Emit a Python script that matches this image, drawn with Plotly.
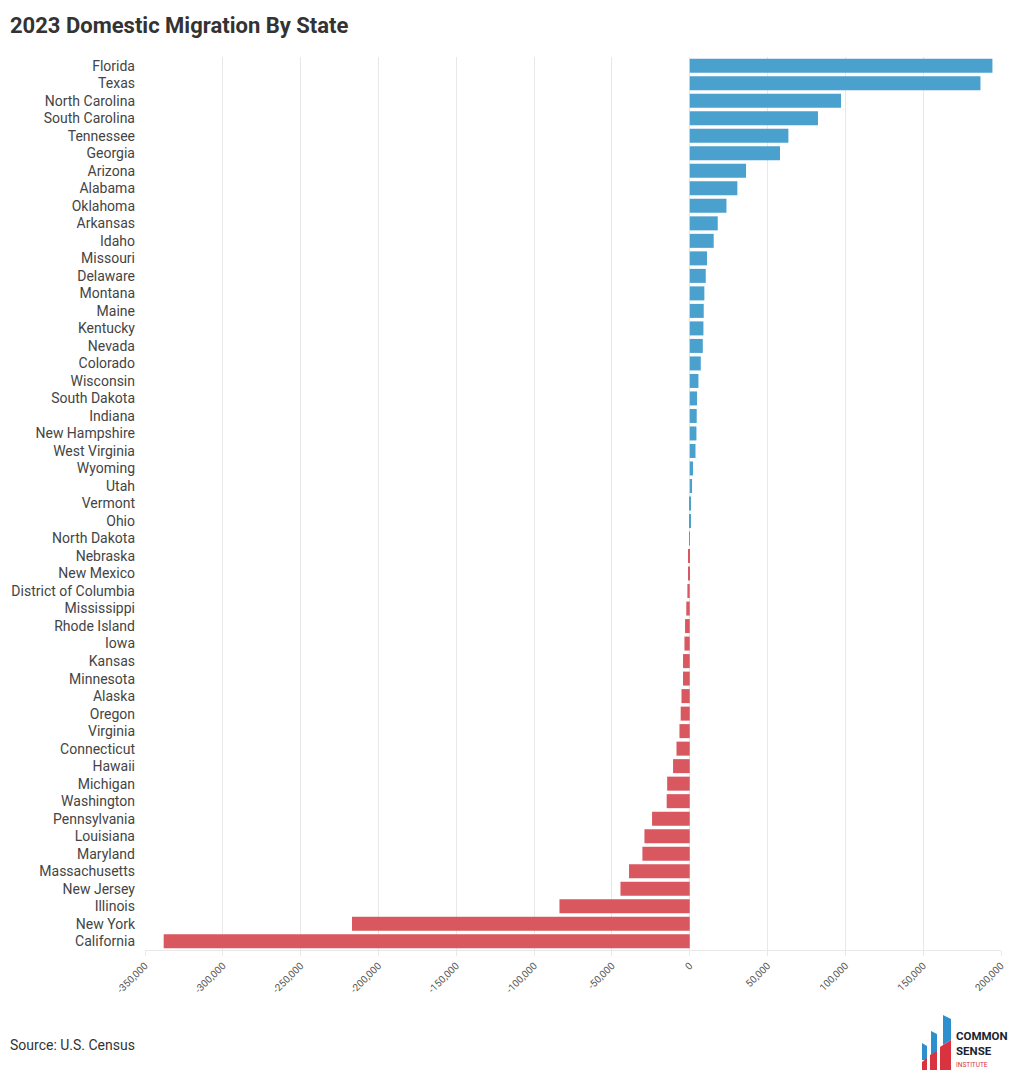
import plotly.graph_objects as go

states = ["Florida", "Texas", "North Carolina", "South Carolina", "Tennessee", "Georgia",
          "Arizona", "Alabama", "Oklahoma", "Arkansas", "Idaho", "Missouri", "Delaware",
          "Montana", "Maine", "Kentucky", "Nevada", "Colorado", "Wisconsin", "South Dakota",
          "Indiana", "New Hampshire", "West Virginia", "Wyoming", "Utah", "Vermont", "Ohio",
          "North Dakota", "Nebraska", "New Mexico", "District of Columbia", "Mississippi",
          "Rhode Island", "Iowa", "Kansas", "Minnesota", "Alaska", "Oregon", "Virginia",
          "Connecticut", "Hawaii", "Michigan", "Washington", "Pennsylvania", "Louisiana",
          "Maryland", "Massachusetts", "New Jersey", "Illinois", "New York", "California"]

migration = [194500, 186800, 97200, 82400, 63400, 58000, 36200, 30600, 23600, 18000,
             15400, 11100, 10300, 9400, 9000, 8800, 8400, 7100, 5600, 4700, 4500, 4300,
             3700, 2100, 1500, 800, 400, 100, -500, -1000, -1500, -2200, -3000, -3400,
             -4300, -4300, -5300, -5800, -6600, -8500, -10700, -14500, -14800, -24200,
             -29100, -30400, -39000, -44500, -83700, -217000, -338000]

x_ticks = [-350000, -300000, -250000, -200000, -150000, -100000, -50000, 0,
           50000, 100000, 150000, 200000]

BLUE = "#4ba1cd"
RED = "#d9585f"
colors = [BLUE if v >= 0 else RED for v in migration]

W, H = 1020, 1085
L, R, T, B = 145, 19, 57, 135
PW, PH = W - L - R, H - T - B


def px(xp):
    return (xp - L) / PW


def py(yp):
    return (H - B - yp) / PH


fig = go.Figure()
fig.add_trace(go.Bar(
    x=migration, y=states, orientation="h",
    marker=dict(color=colors, line=dict(width=0)),
    hovertemplate="%{y}: %{x:,}<extra></extra>",
))

fig.update_layout(
    width=W, height=H,
    margin=dict(l=L, r=R, t=T, b=B),
    paper_bgcolor="white", plot_bgcolor="white",
    bargap=0.2,
    showlegend=False,
    font=dict(family="Roboto, sans-serif", color="#444444"),
    title=dict(text="<b>2023 Domestic Migration By State</b>",
               xref="container", yref="container",
               x=10 / W, xanchor="left", y=1 - 25 / H, yanchor="middle",
               font=dict(family="Roboto, sans-serif", size=22, color="#333333")),
)

fig.update_xaxes(
    range=[-350000, 200000], tickvals=x_ticks,
    ticktext=[f"{v:,}" for v in x_ticks],
    tickangle=-45, tickfont=dict(size=10, color="#555555"),
    showgrid=True, gridcolor="#e8e8e8", gridwidth=1,
    zeroline=False, showline=True, linecolor="#e8e8e8", linewidth=1,
    ticks="outside", ticklen=5, tickcolor="#e8e8e8",
    fixedrange=True,
)
fig.update_yaxes(
    autorange="reversed", tickfont=dict(size=14, color="#444444"),
    showgrid=False, ticks="", ticklabelstandoff=9, fixedrange=True,
)

# source
fig.add_annotation(text="Source: U.S. Census", xref="paper", yref="paper",
                   x=px(8), y=py(1045), xanchor="left", yanchor="middle",
                   showarrow=False, font=dict(size=14, color="#333333"))

# logo (approximation)
def rect_path(pts):
    return "M " + " L ".join(f"{px(a)},{py(b)}" for a, b in pts) + " Z"

logo_blue = [
    [(922, 1043), (927, 1046), (927, 1060), (922, 1060)],
    [(931, 1031), (937, 1034), (937, 1052), (931, 1055)],
    [(943, 1015), (951, 1019), (951, 1040), (943, 1045)],
]
logo_red = [
    [(922, 1062), (927, 1058), (927, 1070), (922, 1070)],
    [(930, 1055), (937, 1051), (937, 1070), (930, 1070)],
    [(940, 1047), (951, 1040), (951, 1070), (940, 1070)],
]
for p in logo_blue:
    fig.add_shape(type="path", path=rect_path(p), xref="paper", yref="paper",
                  fillcolor="#2e8fcf", line=dict(width=0))
for p in logo_red:
    fig.add_shape(type="path", path=rect_path(p), xref="paper", yref="paper",
                  fillcolor="#d8333f", line=dict(width=0))

logo_font = "Roboto, sans-serif"
fig.add_annotation(text="<b>COMMON</b>", xref="paper", yref="paper",
                   x=px(954), y=py(1036), xanchor="left", yanchor="middle",
                   showarrow=False, font=dict(family=logo_font, size=11.5, color="#1b1f2e"))
fig.add_annotation(text="<b>SENSE</b>", xref="paper", yref="paper",
                   x=px(954), y=py(1051), xanchor="left", yanchor="middle",
                   showarrow=False, font=dict(family=logo_font, size=11.5, color="#1b1f2e"))
fig.add_annotation(text="INSTITUTE", xref="paper", yref="paper",
                   x=px(954), y=py(1065), xanchor="left", yanchor="middle",
                   showarrow=False, font=dict(family=logo_font, size=6.5, color="#d8333f"))

fig.write_html("out.html")
